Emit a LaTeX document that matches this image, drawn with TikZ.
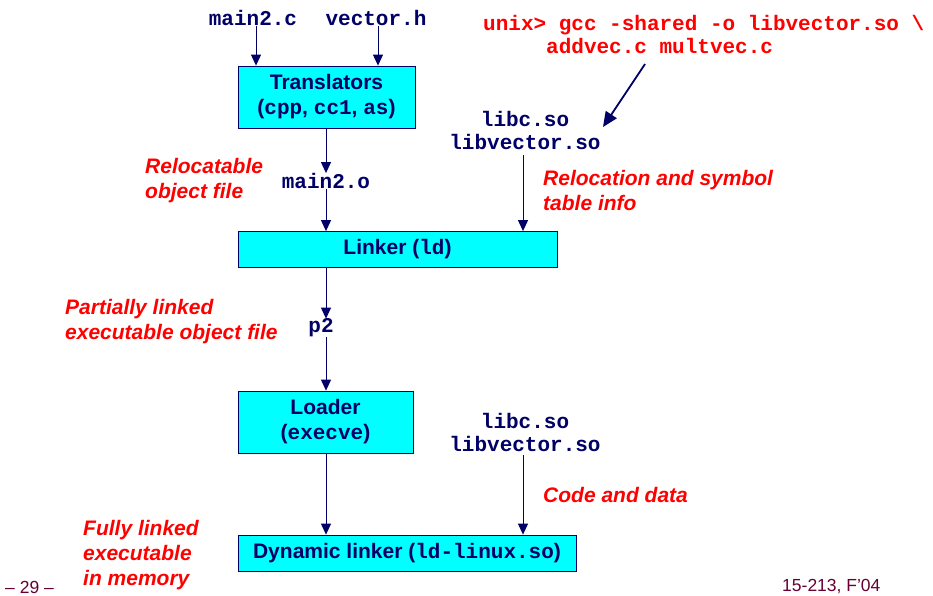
\documentclass[tikz,border=0pt]{standalone}
\usepackage{fontspec}
\setmainfont{Liberation Sans}
\setmonofont{Liberation Mono}
\usetikzlibrary{arrows.meta}
\definecolor{navy}{RGB}{0,0,102}
\definecolor{myred}{RGB}{255,0,0}
\definecolor{mycyan}{RGB}{0,255,255}
\definecolor{footc}{RGB}{102,0,51}
\begin{document}
\begin{tikzpicture}[x=1pt,y=-1pt,
  box/.style={draw=navy, fill=mycyan, line width=0.8pt, inner sep=0pt, text=navy,
    font=\bfseries\fontsize{21}{25}\selectfont, align=center},
  code/.style={text=navy, font=\ttfamily\bfseries\fontsize{21}{23}\selectfont, align=center, inner sep=0pt},
  note/.style={text=myred, font=\bfseries\itshape\fontsize{21}{25}\selectfont, align=left, inner sep=0pt, anchor=west},
  foot/.style={text=footc, font=\fontsize{17.5}{20}\selectfont, inner sep=0pt},
  arr/.style={navy, line width=1pt, -{Triangle[width=10pt,length=11pt]}},
  bigarr/.style={navy, line width=1.8pt, -{Triangle[width=13pt,length=15pt]}}]
\useasboundingbox (0,0) rectangle (933,595);
% sources
\node[code] (main2c) at (253,18) {main2.c};
\node[code] (vectorh) at (376,18) {vector.h};
\node[box, minimum width=177, minimum height=62] (trans) at (326.5,97) {Translators\\(\texttt{cpp}, \texttt{cc1}, \texttt{as})};
\draw[arr] ([xshift=3pt]main2c.south) -- ([xshift=3pt]main2c.south |- trans.north);
\draw[arr] ([xshift=2pt]vectorh.south) -- ([xshift=2pt]vectorh.south |- trans.north);
% main2.o
\node[code] (main2o) at (326,181) {main2.o};
\node[note] (reloc) at (145,180.5) {Relocatable\\object file};
\draw[arr] (trans.south -| main2o) -- (main2o.north);
% gcc command
\node[code, text=myred, align=left, anchor=west] (gcc) at (483,34) {unix> gcc -shared -o libvector.so \textbackslash\\\hspace*{3em}addvec.c multvec.c};
% shared libs
\node[code] (libs1) at (525,130) {libc.so\\libvector.so};
\coordinate (g1) at (645,64);
\coordinate (g2) at (603,127);
\draw[bigarr] (g1) -- (g2);
\node[note] (relsym) at (543,190.5) {Relocation and symbol\\table info};
% linker
\node[box, minimum width=319, minimum height=36] (linker) at (397.5,249.5) {Linker (\texttt{ld})};
\draw[arr] (main2o.south) -- (main2o.south |- linker.north);
\draw[arr] ([yshift=-6pt,xshift=-2pt]libs1.south) -- ([xshift=-2pt]libs1.south |- linker.north);
% p2
\node[code] (p2) at (321,328) {p2};
\node[note] (partial) at (65,321.5) {Partially linked\\executable object file};
\draw[arr] (linker.south -| main2o) -- (p2.north -| main2o);
% loader
\node[box, minimum width=175, minimum height=62] (loader) at (325.5,422) {Loader\\(\texttt{execve})};
\draw[arr] (p2.south -| main2o) -- (loader.north -| main2o);
\node[code] (libs2) at (525,432) {libc.so\\libvector.so};
\node[note] (codedata) at (543,495) {Code and data};
% dynamic linker
\node[box, minimum width=338, minimum height=36] (dyn) at (407,553) {Dynamic linker (\texttt{ld-linux.so})};
\draw[arr] (loader.south -| main2o) -- (dyn.north -| main2o);
\draw[arr] ([yshift=-4pt,xshift=-2pt]libs2.south) -- ([xshift=-2pt]libs2.south |- dyn.north);
\node[note] (fully) at (83,555) {Fully linked\\executable\\in memory};
% footer
\node[foot, anchor=west] (pg) at (5,587) {– 29 –};
\node[foot, anchor=west] (course) at (782,586) {15-213, F’04};
\end{tikzpicture}
\end{document}
